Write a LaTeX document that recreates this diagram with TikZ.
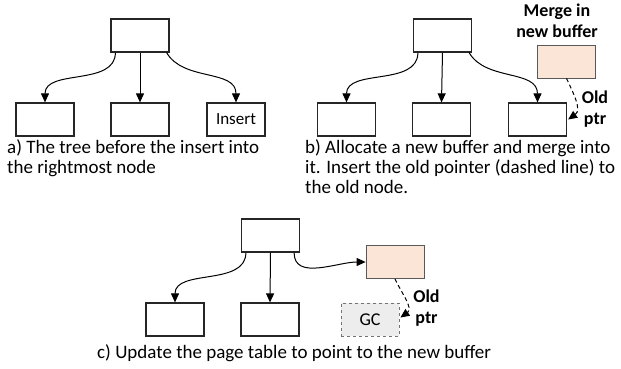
\documentclass[tikz,border=0pt]{standalone}
\usepackage{fontspec}
\setmainfont{Carlito}
\usepackage{tikz}
\usetikzlibrary{arrows.meta}
\definecolor{peach}{HTML}{FBE5D6}
\definecolor{gcgray}{HTML}{EDEDED}

\begin{document}
\begin{tikzpicture}
        [
          x=1pt, y=1pt,
          box/.style={draw=black!85, line width=1.2pt, minimum width=58pt, minimum height=33pt, inner sep=0pt, font=\fontsize{17}{18}\selectfont},
          newbuf/.style={box, draw=black!65, line width=0.8pt, fill=peach},
          gcbox/.style={box, draw=black!55, line width=0.8pt, dashed, fill=gcgray, font=\fontsize{18}{19}\selectfont},
          arr/.style={-{Triangle[length=9pt,width=8pt]}, line width=1pt},
          oldptr/.style={arr, dash pattern=on 4pt off 3pt},
          tag/.style={font=\bfseries\fontsize{18}{21}\selectfont, align=center, inner sep=0pt},
          caption/.style={anchor=base west, align=left, inner sep=0pt, font=\fontsize{19}{20}\selectfont}
        ]
        \useasboundingbox (0,0) rectangle (621,-368);
        % a) before insert
        \node [box] (ta) at (140,-35.5) {};
        \node [box] (la) at (45,-119.5) {};
        \node [box] (ma) at (140,-119.5) {};
        \node [box] (ra) at (236,-119.5) {Insert};
        \draw [arr] ([xshift=5pt]ta.south west) to[out=-90,in=90] (la.north);
        \draw [arr] (ta.south) -- (ma.north);
        \draw [arr] ([xshift=-3pt]ta.south east) to[out=-60,in=90] (ra.north);
        \node [caption] (capa) at (7,-173) {a) The tree before the insert into\\the rightmost node};
        % b) merge into new buffer
        \node [box] (tb) at (442.5,-35.5) {};
        \node [box] (lb) at (346.5,-119.5) {};
        \node [box] (mb) at (441.5,-119.5) {};
        \node [box] (rb) at (537.5,-119.5) {};
        \node [newbuf] (nb) at (566.5,-61.5) {};
        \draw [arr] ([xshift=5pt]tb.south west) to[out=-90,in=90] (lb.north);
        \draw [arr] (tb.south) -- (mb.north);
        \draw [arr] ([xshift=-3pt]tb.south east) to[out=-60,in=90] (rb.north);
        \draw [oldptr] (nb.south) to[out=-65,in=35,looseness=1.05] ([xshift=1pt]rb.east);
        \node [tag] (mergeb) at (557,-21) {Merge in\\new buffer};
        \node [tag] (oldb) at (595,-109) {Old\\ptr};
        \node [caption] (capb) at (305,-193) {b) Allocate a new buffer and merge into\\it. Insert the old pointer (dashed line) to\\the old node.};
        % c) update page table
        \node [box] (tc) at (270.5,-235.5) {};
        \node [box] (lc) at (175,-319.5) {};
        \node [box] (mc) at (270,-319.5) {};
        \node [gcbox] (gc) at (370,-319.5) {GC};
        \node [newbuf] (nc) at (395,-262) {};
        \draw [arr] ([xshift=5pt]tc.south west) to[out=-90,in=90] (lc.north);
        \draw [arr] (tc.south) -- (mc.north);
        \draw [arr] ([xshift=-6pt]tc.south east) to[out=-90,in=180] (nc.west);
        \draw [oldptr] (nc.south) to[out=-65,in=35,looseness=1.05] ([xshift=1pt,yshift=2pt]gc.east);
        \node [tag] (oldc) at (426.5,-308) {Old\\ptr};
        \node [caption] (capc) at (97,-358) {c) Update the page table to point to the new buffer};
\end{tikzpicture}
\end{document}
